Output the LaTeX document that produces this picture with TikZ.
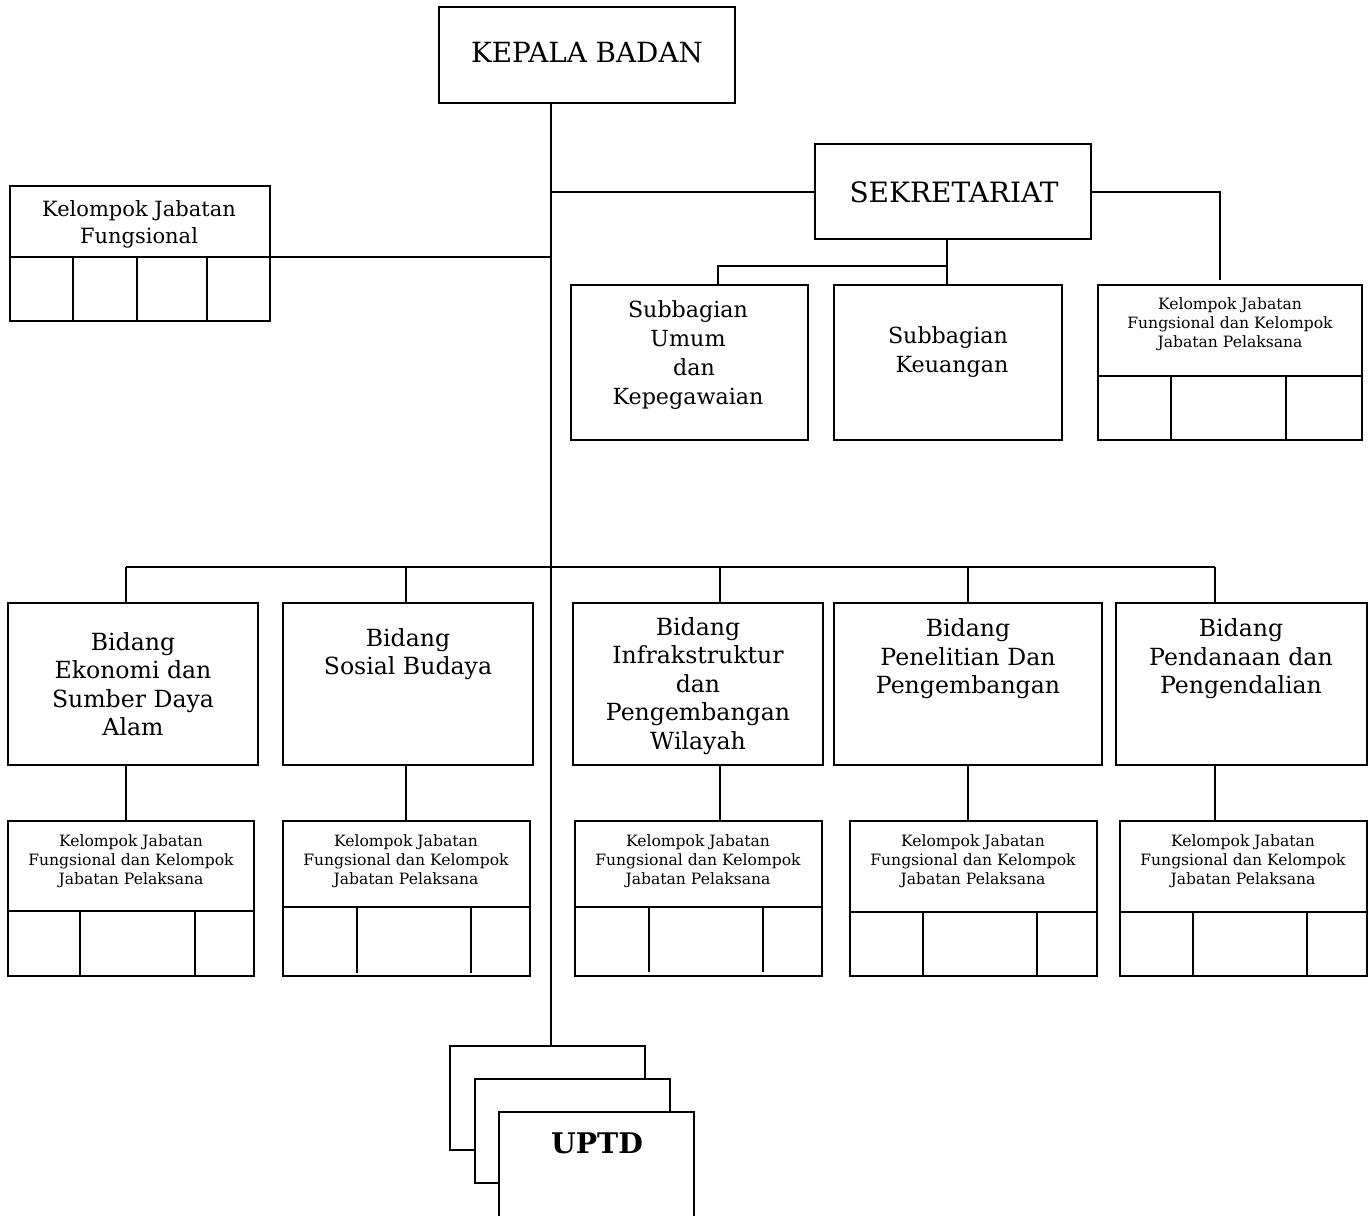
\documentclass[tikz,border=0pt]{standalone}
\usepackage{fontspec}
\setmainfont{DejaVu Serif}
\usetikzlibrary{fit}
\begin{document}
\begin{tikzpicture}[x=0.5pt,y=-0.5pt,line width=1pt,
  box/.style={draw,fill=white,inner sep=0pt},
  txt/.style={align=center,inner sep=0pt},
  tkepala/.style={txt,font=\fontsize{13.9}{17}\selectfont},
  tsek/.style={txt,font=\fontsize{14}{16}\selectfont},
  tsub/.style={txt,font=\fontsize{11.1}{14.5}\selectfont},
  tbid/.style={txt,font=\fontsize{11.8}{14.2}\selectfont},
  tkjfl/.style={txt,font=\fontsize{10.5}{13.5}\selectfont},
  tkjf/.style={txt,font=\fontsize{7.8}{9.5}\selectfont},
  tuptd/.style={txt,font=\fontsize{14.2}{18}\selectfont\bfseries}]
\useasboundingbox (0,0) rectangle (1372,1216);

% top level
\node[box,fit={(439,7) (735,103)}] (kepala) {};
\node[tkepala] (tkep) at (587,53) {KEPALA BADAN};
\node[box,fit={(815,144) (1091,239)}] (sek) {};
\node[tsek] (tsekr) at (954,192) {SEKRETARIAT};

% left KJF
\node[box,fit={(10,186) (270,321)}] (kjfL) {};
\node[tkjfl] (tkjfL) at (139,224) {Kelompok Jabatan\\Fungsional};
\draw (10,257) -- (270,257);
\foreach \xx in {73,137,207} \draw (\xx,257) -- (\xx,321);

% sekretariat children
\node[box,fit={(571,285) (808,440)}] (sub1) {};
\node[tsub] (tsub1) at (688,355) {Subbagian\\Umum\\\hspace*{6pt}dan\\Kepegawaian};
\node[box,fit={(834,285) (1062,440)}] (sub2) {};
\node[tsub] (tsub2) at (948,352) {Subbagian\\\hspace*{4pt}Keuangan};
\node[box,fit={(1098,285) (1362,440)}] (kjfR) {};
\node[tkjf] (tkjfR) at (1230,324) {Kelompok Jabatan\\Fungsional dan Kelompok\\Jabatan Pelaksana};
\draw (1098,376) -- (1362,376);
\foreach \xx in {1171,1286} \draw (\xx,376) -- (\xx,440);

% bidang
\node[box,fit={(8,603) (258,765)}] (bid1) {};
\node[tbid] (tbid1) at (133,684) {Bidang\\Ekonomi dan\\Sumber Daya\\Alam};
\node[box,fit={(283,603) (533,765)}] (bid2) {};
\node[tbid] (tbid2) at (408,654) {Bidang\\Sosial Budaya};
\node[box,fit={(573,603) (823,765)}] (bid3) {};
\node[tbid] (tbid3) at (698,686) {Bidang\\Infrakstruktur\\dan\\Pengembangan\\Wilayah};
\node[box,fit={(834,603) (1102,765)}] (bid4) {};
\node[tbid] (tbid4) at (968,659) {Bidang\\Penelitian Dan\\Pengembangan};
\node[box,fit={(1116,603) (1367,765)}] (bid5) {};
\node[tbid] (tbid5) at (1241,659) {Bidang\\Pendanaan dan\\Pengendalian};

% KJF under bidang
\node[box,fit={(8,821) (254,976)}] (k1) {};
\node[tkjf] (tk1) at (131,861) {Kelompok Jabatan\\Fungsional dan Kelompok\\Jabatan Pelaksana};
\draw (8,911) -- (254,911);
\foreach \xx in {80,195} \draw (\xx,911) -- (\xx,976);

\node[box,fit={(283,821) (530,976)}] (k2) {};
\node[tkjf] (tk2) at (406,861) {Kelompok Jabatan\\Fungsional dan Kelompok\\Jabatan Pelaksana};
\draw (283,907) -- (530,907);
\foreach \xx in {357,471} \draw (\xx,907) -- (\xx,973);

\node[box,fit={(575,821) (822,976)}] (k3) {};
\node[tkjf] (tk3) at (698,861) {Kelompok Jabatan\\Fungsional dan Kelompok\\Jabatan Pelaksana};
\draw (575,907) -- (822,907);
\foreach \xx in {649,763} \draw (\xx,907) -- (\xx,972);

\node[box,fit={(850,821) (1097,976)}] (k4) {};
\node[tkjf] (tk4) at (973,861) {Kelompok Jabatan\\Fungsional dan Kelompok\\Jabatan Pelaksana};
\draw (850,912) -- (1097,912);
\foreach \xx in {923,1037} \draw (\xx,912) -- (\xx,976);

\node[box,fit={(1120,821) (1367,976)}] (k5) {};
\node[tkjf] (tk5) at (1243,861) {Kelompok Jabatan\\Fungsional dan Kelompok\\Jabatan Pelaksana};
\draw (1120,912) -- (1367,912);
\foreach \xx in {1193,1307} \draw (\xx,912) -- (\xx,976);

% UPTD stack
\node[box,fit={(450,1046) (645,1150)}] (u1) {};
\node[box,fit={(475,1079) (670,1183)}] (u2) {};
\node[box,fit={(499,1112) (694,1218)}] (u3) {};
\node[tuptd] (tuptd) at (597,1143) {UPTD};

% connectors
\coordinate (trunk) at (551,0);
\draw (kepala.south -| trunk) -- (u1.north -| trunk);
\draw (sek.west) -- (sek.west -| trunk);
\coordinate (kjfLdiv) at (270,257);
\draw (kjfLdiv) -- (kjfLdiv -| trunk);
\coordinate (sekR) at (1220,280);
\draw (sek.east) -| (sekR);
\coordinate (sekbus) at (947,266);
\coordinate (s1) at (718,285);
\draw (sek.south -| sekbus) -- (sub2.north -| sekbus);
\draw (sekbus) -| (s1);

\coordinate (b1) at (126,567);
\coordinate (b2) at (406,567);
\coordinate (b3) at (720,567);
\coordinate (b4) at (968,567);
\coordinate (b5) at (1215,567);
\draw (b1) -- (b5);
\draw (b1) -- (b1 |- bid1.north);
\draw (b2) -- (b2 |- bid2.north);
\draw (b3) -- (b3 |- bid3.north);
\draw (b4) -- (b4 |- bid4.north);
\draw (b5) -- (b5 |- bid5.north);
\draw (bid1.south -| b1) -- (k1.north -| b1);
\draw (bid2.south -| b2) -- (k2.north -| b2);
\draw (bid3.south -| b3) -- (k3.north -| b3);
\draw (bid4.south -| b4) -- (k4.north -| b4);
\draw (bid5.south -| b5) -- (k5.north -| b5);
\end{tikzpicture}
\end{document}
